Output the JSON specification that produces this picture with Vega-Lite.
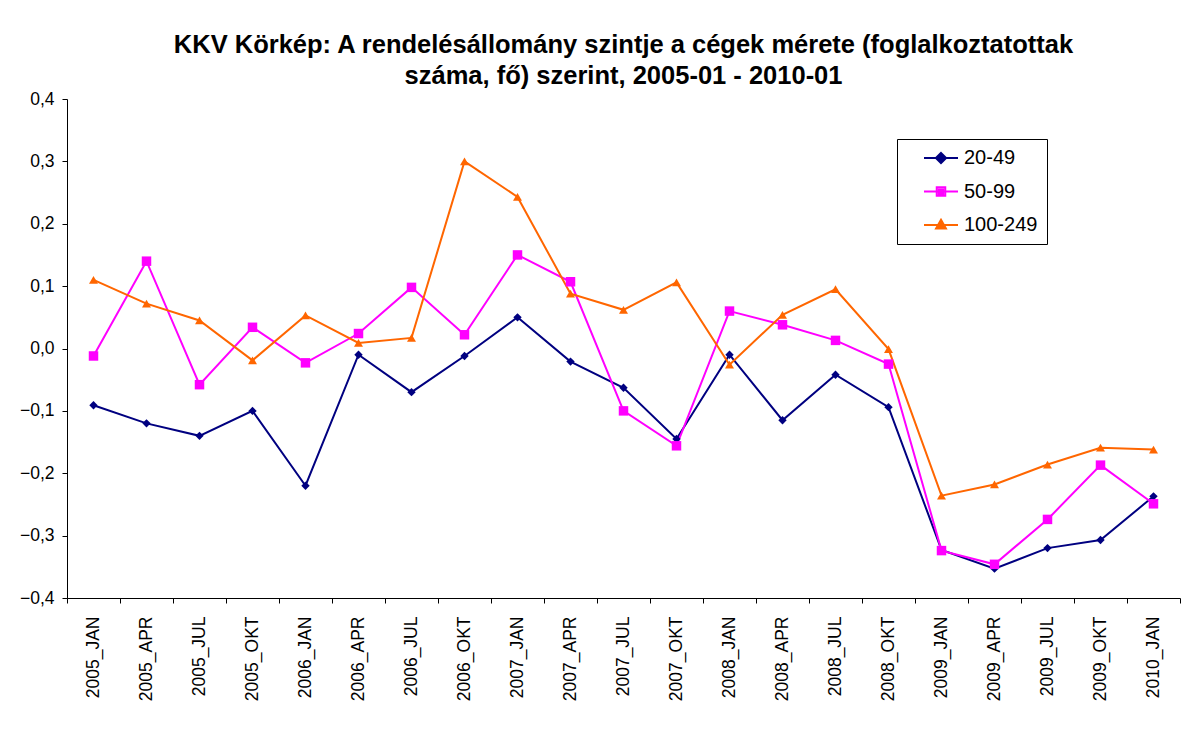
{
  "$schema": "https://vega.github.io/schema/vega-lite/v6.json",
  "width": 1113,
  "height": 499,
  "autosize": {"type": "none"},
  "padding": {"left": 67, "top": 99, "right": 20, "bottom": 133},
  "background": "white",
  "title": {
    "text": ["KKV Körkép: A rendelésállomány szintje a cégek mérete (foglalkoztatottak", "száma, fő) szerint, 2005-01 - 2010-01"],
    "font": "Liberation Sans",
    "fontSize": 25.5,
    "fontWeight": "bold",
    "color": "black",
    "lineHeight": 31,
    "anchor": "middle",
    "offset": 1
  },
  "data": {
    "values": [
      {"t": "2005_JAN", "s": "20-49", "v": -0.091}, {"t": "2005_APR", "s": "20-49", "v": -0.120}, {"t": "2005_JUL", "s": "20-49", "v": -0.140}, {"t": "2005_OKT", "s": "20-49", "v": -0.100},
      {"t": "2006_JAN", "s": "20-49", "v": -0.220}, {"t": "2006_APR", "s": "20-49", "v": -0.010}, {"t": "2006_JUL", "s": "20-49", "v": -0.070}, {"t": "2006_OKT", "s": "20-49", "v": -0.012},
      {"t": "2007_JAN", "s": "20-49", "v": 0.050}, {"t": "2007_APR", "s": "20-49", "v": -0.021}, {"t": "2007_JUL", "s": "20-49", "v": -0.063}, {"t": "2007_OKT", "s": "20-49", "v": -0.145},
      {"t": "2008_JAN", "s": "20-49", "v": -0.010}, {"t": "2008_APR", "s": "20-49", "v": -0.115}, {"t": "2008_JUL", "s": "20-49", "v": -0.042}, {"t": "2008_OKT", "s": "20-49", "v": -0.094},
      {"t": "2009_JAN", "s": "20-49", "v": -0.323}, {"t": "2009_APR", "s": "20-49", "v": -0.353}, {"t": "2009_JUL", "s": "20-49", "v": -0.320}, {"t": "2009_OKT", "s": "20-49", "v": -0.307},
      {"t": "2010_JAN", "s": "20-49", "v": -0.237},
      {"t": "2005_JAN", "s": "50-99", "v": -0.012}, {"t": "2005_APR", "s": "50-99", "v": 0.140}, {"t": "2005_JUL", "s": "50-99", "v": -0.058}, {"t": "2005_OKT", "s": "50-99", "v": 0.034},
      {"t": "2006_JAN", "s": "50-99", "v": -0.023}, {"t": "2006_APR", "s": "50-99", "v": 0.024}, {"t": "2006_JUL", "s": "50-99", "v": 0.098}, {"t": "2006_OKT", "s": "50-99", "v": 0.022},
      {"t": "2007_JAN", "s": "50-99", "v": 0.150}, {"t": "2007_APR", "s": "50-99", "v": 0.107}, {"t": "2007_JUL", "s": "50-99", "v": -0.100}, {"t": "2007_OKT", "s": "50-99", "v": -0.156},
      {"t": "2008_JAN", "s": "50-99", "v": 0.060}, {"t": "2008_APR", "s": "50-99", "v": 0.038}, {"t": "2008_JUL", "s": "50-99", "v": 0.013}, {"t": "2008_OKT", "s": "50-99", "v": -0.025},
      {"t": "2009_JAN", "s": "50-99", "v": -0.324}, {"t": "2009_APR", "s": "50-99", "v": -0.346}, {"t": "2009_JUL", "s": "50-99", "v": -0.274}, {"t": "2009_OKT", "s": "50-99", "v": -0.187},
      {"t": "2010_JAN", "s": "50-99", "v": -0.249},
      {"t": "2005_JAN", "s": "100-249", "v": 0.110}, {"t": "2005_APR", "s": "100-249", "v": 0.072}, {"t": "2005_JUL", "s": "100-249", "v": 0.045}, {"t": "2005_OKT", "s": "100-249", "v": -0.019},
      {"t": "2006_JAN", "s": "100-249", "v": 0.053}, {"t": "2006_APR", "s": "100-249", "v": 0.009}, {"t": "2006_JUL", "s": "100-249", "v": 0.017}, {"t": "2006_OKT", "s": "100-249", "v": 0.300},
      {"t": "2007_JAN", "s": "100-249", "v": 0.243}, {"t": "2007_APR", "s": "100-249", "v": 0.088}, {"t": "2007_JUL", "s": "100-249", "v": 0.062}, {"t": "2007_OKT", "s": "100-249", "v": 0.106},
      {"t": "2008_JAN", "s": "100-249", "v": -0.026}, {"t": "2008_APR", "s": "100-249", "v": 0.054}, {"t": "2008_JUL", "s": "100-249", "v": 0.095}, {"t": "2008_OKT", "s": "100-249", "v": -0.001},
      {"t": "2009_JAN", "s": "100-249", "v": -0.236}, {"t": "2009_APR", "s": "100-249", "v": -0.218}, {"t": "2009_JUL", "s": "100-249", "v": -0.186}, {"t": "2009_OKT", "s": "100-249", "v": -0.159},
      {"t": "2010_JAN", "s": "100-249", "v": -0.162}
    ]
  },
  "encoding": {
    "x": {
      "field": "t", "type": "ordinal", "sort": null,
      "scale": {"type": "band", "paddingInner": 0, "paddingOuter": 0},
      "axis": {"labelAngle": -90, "tickBand": "extent", "tickSize": 5, "labelPadding": 13, "domainWidth": 1}
    },
    "y": {
      "field": "v", "type": "quantitative",
      "scale": {"domain": [-0.4, 0.4], "nice": false, "zero": false},
      "axis": {"values": [-0.4, -0.3, -0.2, -0.1, 0, 0.1, 0.2, 0.3, 0.4], "labelExpr": "replace(format(datum.value, '.1f'), '.', ',')", "tickSize": 5, "labelPadding": 8}
    }
  },
  "layer": [
    {
      "mark": {"type": "line", "strokeWidth": 2},
      "encoding": {
        "color": {"field": "s", "type": "nominal", "scale": {"domain": ["20-49", "50-99", "100-249"], "range": ["#000080", "#FF00FF", "#FF6600"]}, "legend": null}
      }
    },
    {
      "transform": [{"filter": "datum.s === '20-49'"}],
      "mark": {"type": "point", "filled": true, "opacity": 1, "shape": "diamond", "size": 70, "color": "#000080"}
    },
    {
      "transform": [{"filter": "datum.s === '50-99'"}],
      "mark": {"type": "point", "filled": true, "opacity": 1, "shape": "square", "size": 90, "color": "#FF00FF"}
    },
    {
      "transform": [{"filter": "datum.s === '100-249'"}],
      "mark": {"type": "point", "filled": true, "opacity": 1, "shape": "triangle-up", "size": 80, "color": "#FF6600"}
    },
    {
      "mark": {"type": "point", "filled": false, "opacity": 0},
      "encoding": {
        "color": {"field": "s", "type": "nominal", "scale": {"domain": ["20-49", "50-99", "100-249"], "range": ["#000080", "#FF00FF", "#FF6600"]}},
        "shape": {
          "field": "s", "type": "nominal",
          "scale": {"domain": ["20-49", "50-99", "100-249"], "range": [
            "M-2,0L2,0M0,-0.6L0.6,0L0,0.6L-0.6,0ZM0,-0.3L0.3,0L0,0.3L-0.3,0ZM0,-0.3L0,0.3",
            "M-2,0L2,0M-0.5,-0.5L0.5,-0.5L0.5,0.5L-0.5,0.5ZM-0.25,-0.25L0.25,-0.25L0.25,0.25L-0.25,0.25ZM0,-0.25L0,0.25",
            "M-2,0L2,0M0,-0.62L0.58,0.42L-0.58,0.42ZM0,-0.25L0.25,0.22L-0.25,0.22ZM0,-0.3L0,0.42"
          ]}
        }
      }
    }
  ],
  "resolve": {"scale": {"color": "independent", "shape": "independent"}},
  "config": {
    "view": {"stroke": null},
    "axis": {"labelFont": "Liberation Sans", "labelFontSize": 17.5, "labelColor": "black", "domainColor": "black", "tickColor": "black", "grid": false, "title": null},
    "legend": {
      "title": null,
      "orient": "none",
      "legendX": 830,
      "legendY": 40,
      "strokeColor": "black",
      "fillColor": "white",
      "padding": 9,
      "rowPadding": 13.5,
      "symbolSize": 289,
      "symbolOpacity": 1,
      "symbolStrokeWidth": 2,
      "symbolOffset": 25,
      "labelFont": "Liberation Sans",
      "labelFontSize": 20,
      "labelColor": "black",
      "labelOffset": 13
    }
  }
}
